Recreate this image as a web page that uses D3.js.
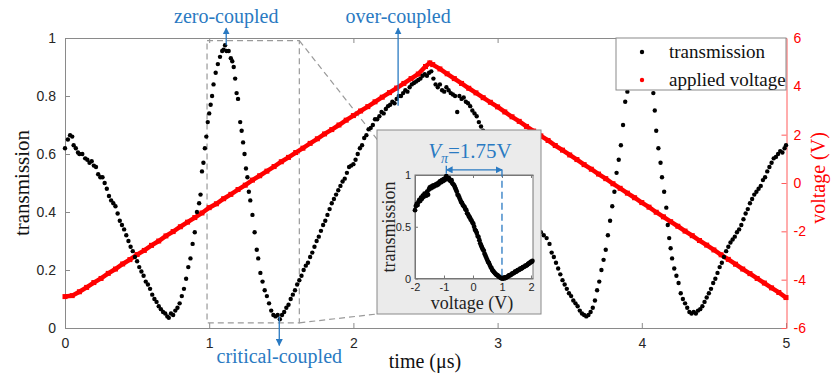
<!DOCTYPE html>
<html>
<head>
<meta charset="utf-8">
<script src="https://cdn.jsdelivr.net/npm/d3@7"></script>
<style>
body { margin: 0; background: #fff; }
</style>
</head>
<body>
<div id="chart"></div>
<script>
var timeTicks = [0, 1, 2, 3, 4, 5];
var transTicks = [0, 0.2, 0.4, 0.6, 0.8, 1];
var voltTicks = [-6, -4, -2, 0, 2, 4, 6];
var insetVoltTicks = [-2, -1, 0, 1, 2];
var insetTransTicks = [0, 0.5, 1];

// [time (us), transmission]
var transmission = [
  [0.00,0.62],[0.02,0.65],[0.035,0.665],[0.05,0.66],[0.06,0.63],[0.075,0.62],[0.09,0.605],[0.10,0.60],
  [0.12,0.60],[0.14,0.585],[0.155,0.58],[0.17,0.57],[0.185,0.575],[0.20,0.56],[0.215,0.555],[0.23,0.53],
  [0.245,0.52],[0.26,0.52],[0.275,0.50],[0.29,0.48],[0.305,0.455],[0.32,0.44],[0.335,0.43],[0.35,0.42],
  [0.365,0.395],[0.38,0.37],[0.395,0.355],[0.41,0.34],[0.425,0.32],[0.44,0.30],[0.455,0.28],[0.47,0.265],
  [0.485,0.245],[0.50,0.23],[0.515,0.21],[0.53,0.195],[0.545,0.18],[0.56,0.16],[0.575,0.15],[0.59,0.135],
  [0.605,0.115],[0.62,0.10],[0.635,0.09],[0.65,0.075],[0.665,0.065],[0.68,0.055],[0.695,0.05],[0.71,0.04],
  [0.72,0.035],[0.735,0.05],[0.75,0.045],[0.765,0.06],[0.78,0.07],[0.795,0.085],[0.81,0.11],[0.825,0.135],
  [0.84,0.17],[0.855,0.21],[0.87,0.24],[0.885,0.29],[0.90,0.33],[0.915,0.40],[0.93,0.43],[0.94,0.46],
  [0.95,0.54],[0.96,0.57],[0.97,0.62],[0.98,0.66],[0.99,0.71],[1.00,0.74],[1.01,0.77],[1.02,0.80],
  [1.03,0.84],[1.045,0.88],[1.06,0.91],[1.075,0.935],[1.09,0.955],[1.10,0.96],[1.11,0.975],[1.12,0.955],
  [1.135,0.955],[1.15,0.93],[1.16,0.92],[1.17,0.90],[1.18,0.86],[1.19,0.81],[1.20,0.79],[1.215,0.71],
  [1.225,0.68],[1.235,0.64],[1.245,0.60],[1.255,0.55],[1.265,0.52],[1.275,0.47],[1.285,0.44],[1.30,0.39],
  [1.315,0.33],[1.33,0.27],[1.34,0.24],[1.355,0.19],[1.37,0.16],[1.385,0.13],[1.40,0.11],[1.415,0.085],
  [1.43,0.06],[1.445,0.045],[1.46,0.04],[1.475,0.045],[1.49,0.03],[1.505,0.045],[1.52,0.055],[1.535,0.07],
  [1.55,0.08],[1.565,0.10],[1.58,0.115],[1.595,0.13],[1.61,0.15],[1.625,0.165],[1.64,0.18],[1.655,0.20],
  [1.67,0.215],[1.685,0.225],[1.70,0.245],[1.715,0.26],[1.73,0.28],[1.745,0.30],[1.76,0.315],[1.775,0.335],
  [1.79,0.355],[1.805,0.37],[1.82,0.39],[1.835,0.41],[1.85,0.43],[1.865,0.445],[1.88,0.46],[1.895,0.475],
  [1.91,0.49],[1.925,0.505],[1.94,0.515],[1.955,0.535],[1.97,0.555],[1.985,0.56],[2.00,0.565],[2.015,0.58],
  [2.03,0.60],[2.045,0.62],[2.06,0.63],[2.075,0.655],[2.09,0.665],[2.105,0.685],[2.12,0.69],[2.135,0.70],
  [2.15,0.72],[2.165,0.72],[2.18,0.73],[2.195,0.745],[2.21,0.74],[2.225,0.755],[2.24,0.765],[2.255,0.77],
  [2.27,0.78],[2.285,0.775],[2.30,0.79],[2.315,0.80],[2.33,0.80],[2.345,0.81],[2.36,0.82],[2.375,0.815],
  [2.39,0.83],[2.405,0.84],[2.42,0.845],[2.435,0.85],[2.45,0.855],[2.465,0.86],[2.48,0.87],[2.495,0.875],
  [2.51,0.87],[2.525,0.88],[2.54,0.885],[2.555,0.86],[2.57,0.84],[2.585,0.83],[2.60,0.84],[2.615,0.82],
  [2.63,0.815],[2.645,0.83],[2.66,0.82],[2.675,0.81],[2.69,0.805],[2.705,0.80],[2.72,0.745],[2.735,0.80],
  [2.75,0.79],[2.765,0.795],[2.78,0.78],[2.795,0.775],[2.81,0.765],[2.825,0.75],[2.84,0.74],[2.855,0.73],
  [2.87,0.71],[2.885,0.695],[2.90,0.68],[2.92,0.66],[2.94,0.63],[2.96,0.61],[2.98,0.59],[3.00,0.56],
  [3.02,0.54],[3.04,0.52],[3.06,0.50],[3.08,0.48],[3.10,0.46],[3.12,0.44],[3.14,0.42],[3.16,0.40],
  [3.18,0.39],[3.20,0.37],[3.22,0.36],[3.24,0.35],[3.26,0.34],[3.28,0.335],[3.30,0.33],[3.32,0.32],
  [3.34,0.31],[3.36,0.29],[3.375,0.26],[3.39,0.245],[3.405,0.225],[3.42,0.205],[3.435,0.185],[3.45,0.165],
  [3.465,0.15],[3.48,0.135],[3.495,0.12],[3.51,0.11],[3.525,0.095],[3.54,0.085],[3.555,0.075],[3.57,0.06],
  [3.585,0.05],[3.60,0.045],[3.615,0.04],[3.63,0.045],[3.645,0.055],[3.66,0.07],[3.675,0.095],[3.69,0.13],
  [3.705,0.16],[3.72,0.20],[3.735,0.235],[3.75,0.27],[3.765,0.32],[3.78,0.37],[3.795,0.42],[3.81,0.47],
  [3.825,0.535],[3.84,0.58],[3.855,0.63],[3.87,0.70],[3.885,0.78],[3.90,0.815],[3.915,0.86],[3.93,0.90],
  [3.945,0.93],[3.96,0.95],[3.975,0.96],[3.99,0.96],[4.005,0.955],[4.02,0.94],[4.035,0.92],[4.05,0.89],
  [4.065,0.85],[4.08,0.81],[4.09,0.75],[4.10,0.68],[4.115,0.62],[4.13,0.57],[4.14,0.52],[4.155,0.47],
  [4.17,0.415],[4.18,0.355],[4.19,0.31],[4.20,0.275],[4.21,0.24],[4.225,0.205],[4.24,0.18],[4.255,0.155],
  [4.27,0.12],[4.285,0.10],[4.30,0.085],[4.315,0.07],[4.33,0.055],[4.345,0.05],[4.36,0.055],[4.375,0.05],
  [4.39,0.06],[4.405,0.065],[4.42,0.075],[4.435,0.09],[4.45,0.105],[4.465,0.12],[4.48,0.135],[4.495,0.155],
  [4.51,0.17],[4.525,0.19],[4.54,0.21],[4.555,0.225],[4.57,0.245],[4.585,0.265],[4.60,0.28],[4.615,0.295],
  [4.63,0.305],[4.645,0.315],[4.66,0.33],[4.675,0.34],[4.69,0.355],[4.705,0.375],[4.72,0.395],[4.735,0.41],
  [4.75,0.43],[4.765,0.445],[4.78,0.46],[4.795,0.47],[4.81,0.48],[4.825,0.49],[4.84,0.51],[4.855,0.52],
  [4.87,0.54],[4.885,0.555],[4.90,0.57],[4.915,0.585],[4.93,0.59],[4.945,0.60],[4.96,0.61],[4.975,0.605],
  [4.99,0.62],[5.00,0.63]
];

// [time (us), applied voltage (V)]
var appliedVoltage = [
  [0.00,-4.70],[0.05,-4.66],[0.10,-4.50],[0.15,-4.32],[0.20,-4.12],[0.25,-3.95],[0.30,-3.74],[0.35,-3.56],
  [0.40,-3.35],[0.45,-3.17],[0.50,-2.96],[0.55,-2.79],[0.60,-2.58],[0.65,-2.40],[0.70,-2.19],[0.75,-2.01],
  [0.80,-1.81],[0.85,-1.62],[0.90,-1.43],[0.95,-1.24],[1.00,-1.02],[1.05,-0.86],[1.10,-0.65],[1.15,-0.47],
  [1.20,-0.27],[1.25,-0.09],[1.30,0.12],[1.35,0.30],[1.40,0.49],[1.45,0.68],[1.50,0.88],[1.55,1.06],
  [1.60,1.26],[1.65,1.44],[1.70,1.64],[1.75,1.83],[1.80,2.03],[1.85,2.21],[1.90,2.40],[1.95,2.60],
  [2.00,2.79],[2.05,2.98],[2.10,3.16],[2.15,3.36],[2.20,3.55],[2.25,3.74],[2.30,3.93],[2.35,4.12],
  [2.40,4.32],[2.45,4.51],[2.50,4.82],[2.53,4.97],[2.55,4.90],[2.60,4.72],[2.65,4.52],[2.70,4.32],
  [2.75,4.12],[2.80,3.92],[2.85,3.73],[2.90,3.53],[2.95,3.34],[3.00,3.15],[3.05,2.94],[3.10,2.74],
  [3.15,2.55],[3.20,2.34],[3.25,2.15],[3.30,1.95],[3.35,1.76],[3.40,1.55],[3.45,1.36],[3.50,1.16],
  [3.55,0.97],[3.60,0.76],[3.65,0.57],[3.70,0.37],[3.75,0.18],[3.80,-0.03],[3.85,-0.22],[3.90,-0.42],
  [3.95,-0.61],[4.00,-0.81],[4.05,-1.00],[4.10,-1.21],[4.15,-1.40],[4.20,-1.60],[4.25,-1.79],[4.30,-1.99],
  [4.35,-2.18],[4.40,-2.38],[4.45,-2.57],[4.50,-2.77],[4.55,-2.97],[4.60,-3.16],[4.65,-3.36],[4.70,-3.56],
  [4.75,-3.75],[4.80,-3.95],[4.85,-4.14],[4.90,-4.34],[4.95,-4.53],[5.00,-4.74]
];

// inset: [voltage (V), transmission]
var insetCurve = [
  [-2.00,0.66],[-1.97,0.70],[-1.94,0.72],[-1.91,0.71],[-1.88,0.74],[-1.85,0.76],[-1.82,0.75],[-1.79,0.78],
  [-1.76,0.77],[-1.73,0.80],[-1.70,0.79],[-1.67,0.82],[-1.64,0.81],[-1.61,0.80],[-1.58,0.84],[-1.55,0.81],
  [-1.52,0.86],[-1.49,0.88],[-1.46,0.87],[-1.43,0.89],[-1.40,0.88],[-1.37,0.90],[-1.34,0.89],[-1.31,0.90],
  [-1.28,0.91],[-1.25,0.90],[-1.22,0.92],[-1.19,0.91],[-1.16,0.93],[-1.13,0.94],[-1.10,0.93],[-1.07,0.95],
  [-1.04,0.94],[-1.01,0.96],[-0.98,0.95],[-0.95,0.97],[-0.92,0.99],[-0.89,0.97],[-0.86,0.96],[-0.83,0.97],
  [-0.80,0.95],[-0.77,0.94],[-0.74,0.95],[-0.71,0.92],[-0.68,0.91],[-0.65,0.90],[-0.62,0.88],[-0.59,0.86],
  [-0.56,0.84],[-0.53,0.81],[-0.50,0.80],[-0.47,0.78],[-0.44,0.76],[-0.41,0.74],[-0.38,0.73],[-0.35,0.71],
  [-0.32,0.70],[-0.29,0.69],[-0.26,0.67],[-0.23,0.66],[-0.20,0.63],[-0.17,0.62],[-0.14,0.60],[-0.11,0.59],
  [-0.08,0.57],[-0.05,0.56],[-0.02,0.54],[0.01,0.53],[0.04,0.50],[0.07,0.47],[0.10,0.46],[0.13,0.44],
  [0.16,0.41],[0.19,0.40],[0.22,0.37],[0.25,0.34],[0.28,0.32],[0.31,0.30],[0.34,0.28],[0.37,0.27],
  [0.40,0.24],[0.43,0.22],[0.46,0.20],[0.49,0.18],[0.52,0.16],[0.55,0.15],[0.58,0.13],[0.61,0.11],
  [0.64,0.10],[0.67,0.08],[0.70,0.07],[0.73,0.06],[0.76,0.05],[0.79,0.04],[0.82,0.035],[0.85,0.03],
  [0.88,0.02],[0.91,0.015],[0.94,0.01],[0.97,0.005],[1.00,0.0],[1.03,0.005],[1.06,0.0],[1.09,0.01],
  [1.12,0.005],[1.15,0.01],[1.18,0.015],[1.21,0.02],[1.24,0.03],[1.27,0.03],[1.30,0.035],[1.33,0.04],
  [1.36,0.05],[1.39,0.05],[1.42,0.055],[1.45,0.065],[1.48,0.065],[1.51,0.07],[1.54,0.08],[1.57,0.08],
  [1.60,0.085],[1.63,0.095],[1.66,0.095],[1.69,0.10],[1.72,0.11],[1.75,0.11],[1.78,0.115],[1.81,0.125],
  [1.84,0.125],[1.87,0.13],[1.90,0.14],[1.93,0.145],[1.96,0.15],[1.99,0.16],[2.02,0.16],[2.05,0.17]
];

// annotation anchors, in data units
var zoomWindow = { t0: 0.985, t1: 1.625, T0: 0.018, T1: 0.991 };
var arrowNotes = [
  { label: "zero-coupled", t: 1.118, from: 0.975, to: 1.034, text: 1.053 },
  { label: "over-coupled", t: 2.31, from: 0.766, to: 1.034, text: 1.053 },
  { label: "critical-coupled", t: 1.486, from: 0.04, to: -0.06, text: -0.122 }
];
var vPi = { from: -0.92, to: 1.0, level: 1.05, label: "1.75V" };

var blue = "#2a7ac2";
var gray = "#8a8a8a";
var serif = "Liberation Serif, Tinos, Times New Roman, serif";
var sans = "Liberation Sans, Arimo, Arial, sans-serif";

var svg = d3.select("#chart").append("svg")
  .attr("width", 831)
  .attr("height", 373);

var defs = svg.append("defs");
defs.append("marker")
  .attr("id", "head")
  .attr("viewBox", "0 0 10 10")
  .attr("refX", 9).attr("refY", 5)
  .attr("markerWidth", 7).attr("markerHeight", 7)
  .attr("markerUnits", "userSpaceOnUse")
  .attr("orient", "auto-start-reverse")
  .append("path")
  .attr("d", "M0,0 L10,5 L0,10 z")
  .attr("fill", blue);

var x = d3.scaleLinear().domain([0, 5]).range([65, 786]);
var y = d3.scaleLinear().domain([0, 1]).range([328, 38]);
var yv = d3.scaleLinear().domain([-6, 6]).range([328, 38]);

function styleAxis(g, color, size, textColor) {
  g.attr("font-family", sans).attr("font-size", size);
  g.select(".domain").attr("stroke", color);
  g.selectAll(".tick line").attr("stroke", color);
  g.selectAll(".tick text").attr("fill", textColor || "#262626");
}

function plain(d) { return String(d); }

// main axes
svg.append("g").attr("transform", "translate(0,328)")
  .call(d3.axisBottom(x).tickValues(timeTicks).tickSize(-5).tickSizeOuter(0).tickPadding(10).tickFormat(plain))
  .call(styleAxis, gray, 14);
svg.append("g").attr("transform", "translate(0,38)")
  .call(d3.axisTop(x).tickValues([1, 2, 3, 4]).tickSize(-5).tickSizeOuter(0).tickFormat(""))
  .call(styleAxis, gray, 14);
svg.append("g").attr("transform", "translate(65,0)")
  .call(d3.axisLeft(y).tickValues(transTicks).tickSize(-5).tickSizeOuter(0).tickPadding(9).tickFormat(plain))
  .call(styleAxis, gray, 14);
svg.append("g").attr("transform", "translate(786.5,0)")
  .call(d3.axisRight(yv).tickValues(voltTicks).tickSize(-5).tickSizeOuter(0).tickPadding(7).tickFormat(plain))
  .call(styleAxis, "#ff5a5a", 14, "red");

// zoom window
var zw = svg.append("g").attr("fill", "none").attr("stroke", "#9a9a9a")
  .attr("stroke-width", 1.2).attr("stroke-dasharray", "6,4");
zw.append("rect")
  .attr("x", x(zoomWindow.t0)).attr("y", y(zoomWindow.T1))
  .attr("width", x(zoomWindow.t1) - x(zoomWindow.t0))
  .attr("height", y(zoomWindow.T0) - y(zoomWindow.T1));
zw.append("line")
  .attr("x1", x(zoomWindow.t1)).attr("y1", y(zoomWindow.T1))
  .attr("x2", 380).attr("y2", 143);
zw.append("line")
  .attr("x1", x(zoomWindow.t1)).attr("y1", y(zoomWindow.T0))
  .attr("x2", 377).attr("y2", 314);

// applied voltage
svg.append("path")
  .datum(appliedVoltage)
  .attr("fill", "none")
  .attr("stroke", "red")
  .attr("stroke-width", 4.5)
  .attr("d", d3.line().x(function (d) { return x(d[0]); }).y(function (d) { return yv(d[1]); }));
svg.append("g").selectAll("rect")
  .data(appliedVoltage)
  .enter().append("rect")
  .attr("x", function (d) { return x(d[0]) - 2.5; })
  .attr("y", function (d) { return yv(d[1]) - 2.5; })
  .attr("width", 5).attr("height", 5)
  .attr("fill", "red");

// transmission
svg.append("g").selectAll("circle")
  .data(transmission)
  .enter().append("circle")
  .attr("cx", function (d) { return x(d[0]); })
  .attr("cy", function (d) { return y(d[1]); })
  .attr("r", 2.2)
  .attr("fill", "#000");

// arrows + labels
arrowNotes.forEach(function (a) {
  svg.append("line")
    .attr("x1", x(a.t)).attr("y1", y(a.from))
    .attr("x2", x(a.t)).attr("y2", y(a.to))
    .attr("stroke", blue).attr("stroke-width", 1.3)
    .attr("marker-end", "url(#head)");
  svg.append("text")
    .attr("x", x(a.t)).attr("y", y(a.text))
    .attr("text-anchor", "middle")
    .attr("font-family", serif).attr("font-size", 20)
    .attr("fill", blue)
    .text(a.label);
});

// axis titles
svg.append("text")
  .attr("transform", "translate(29,183) rotate(-90)")
  .attr("text-anchor", "middle")
  .attr("font-family", serif).attr("font-size", 21)
  .attr("fill", "#111")
  .text("transmission");
svg.append("text")
  .attr("x", 425).attr("y", 368)
  .attr("text-anchor", "middle")
  .attr("font-family", serif).attr("font-size", 20)
  .attr("fill", "#111")
  .text("time (\u03bcs)");
svg.append("text")
  .attr("transform", "translate(825,178) rotate(-90)")
  .attr("text-anchor", "middle")
  .attr("font-family", serif).attr("font-size", 20)
  .attr("fill", "red")
  .text("voltage (V)");

// legend
var lg = svg.append("g");
lg.append("rect")
  .attr("x", 616).attr("y", 38).attr("width", 170).attr("height", 52)
  .attr("fill", "#fff").attr("stroke", gray);
[["transmission", "#000"], ["applied voltage", "red"]].forEach(function (e, i) {
  lg.append("circle").attr("cx", 642).attr("cy", 52 + i * 28).attr("r", 2.2).attr("fill", e[1]);
  lg.append("text").attr("x", 669).attr("y", 58 + i * 28)
    .attr("font-family", serif).attr("font-size", 19)
    .attr("fill", "#111").text(e[0]);
});

// inset
var inset = svg.append("g");
inset.append("rect")
  .attr("x", 377).attr("y", 130).attr("width", 164).attr("height", 184)
  .attr("fill", "#ebebeb").attr("stroke", gray);

var ix = d3.scaleLinear().domain([-2, 2.07]).range([415, 533]);
var iy = d3.scaleLinear().domain([0, 1]).range([278.5, 175]);

inset.append("rect")
  .attr("x", 415).attr("y", 175).attr("width", 118).attr("height", 103.5)
  .attr("fill", "#fff").attr("stroke", "#777");
inset.append("g").attr("transform", "translate(0,278.5)")
  .call(d3.axisBottom(ix).tickValues(insetVoltTicks).tickSize(-3).tickSizeOuter(0).tickPadding(5).tickFormat(plain))
  .call(styleAxis, "#777", 11);
inset.append("g").attr("transform", "translate(415,0)")
  .call(d3.axisLeft(iy).tickValues(insetTransTicks).tickSize(-3).tickSizeOuter(0).tickPadding(4).tickFormat(plain))
  .call(styleAxis, "#777", 11);
inset.append("g").attr("transform", "translate(0,175)")
  .call(d3.axisTop(ix).tickValues(insetVoltTicks).tickSize(-3).tickSizeOuter(0).tickFormat(""))
  .call(styleAxis, "#777", 11);

inset.append("g").selectAll("circle")
  .data(insetCurve)
  .enter().append("circle")
  .attr("cx", function (d) { return ix(d[0]); })
  .attr("cy", function (d) { return iy(d[1]); })
  .attr("r", 2.4)
  .attr("fill", "#000");

inset.append("text")
  .attr("transform", "translate(395,227) rotate(-90)")
  .attr("text-anchor", "middle")
  .attr("font-family", serif).attr("font-size", 18)
  .attr("fill", "#222")
  .text("transmission");
inset.append("text")
  .attr("x", 472).attr("y", 309)
  .attr("text-anchor", "middle")
  .attr("font-family", serif).attr("font-size", 18)
  .attr("fill", "#222")
  .text("voltage (V)");

// V_pi marker
inset.append("line")
  .attr("x1", ix(vPi.from)).attr("y1", iy(vPi.level))
  .attr("x2", ix(vPi.to)).attr("y2", iy(vPi.level))
  .attr("stroke", blue).attr("stroke-width", 1.3)
  .attr("marker-start", "url(#head)")
  .attr("marker-end", "url(#head)");
inset.append("line")
  .attr("x1", ix(vPi.from)).attr("y1", iy(vPi.level) - 4)
  .attr("x2", ix(vPi.from)).attr("y2", iy(vPi.level) + 4)
  .attr("stroke", blue).attr("stroke-width", 1.3);
inset.append("line")
  .attr("x1", ix(vPi.to)).attr("y1", iy(vPi.level))
  .attr("x2", ix(vPi.to)).attr("y2", iy(0))
  .attr("stroke", blue).attr("stroke-width", 1.3)
  .attr("stroke-dasharray", "7,4");

var vt = inset.append("text")
  .attr("x", 470).attr("y", 158)
  .attr("text-anchor", "middle")
  .attr("font-family", serif).attr("font-size", 21)
  .attr("fill", blue);
vt.append("tspan").attr("font-style", "italic").text("V");
vt.append("tspan").attr("font-style", "italic").attr("font-size", 14).attr("dy", 5).text("\u03c0");
vt.append("tspan").attr("dy", -5).text("=" + vPi.label);
</script>
</body>
</html>
